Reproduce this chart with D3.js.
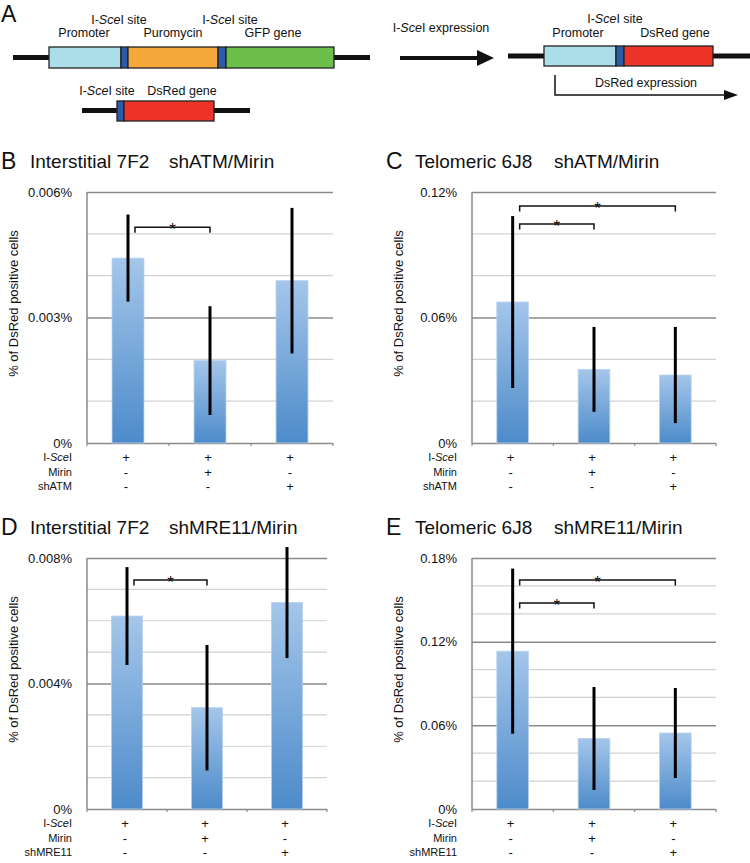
<!DOCTYPE html>
<html><head><meta charset="utf-8">
<script src="https://cdn.jsdelivr.net/npm/d3@7"></script>
<style>
body{margin:0;background:#fff}
svg{display:block}
text{font-family:"Liberation Sans",Arial,Helvetica,sans-serif;fill:#111}
</style>
</head><body>
<svg id="chart" width="750" height="863"></svg>
<script>
// ---------- DATA ----------
const groups = ["1", "2", "3"];
const iSceISigns = ["+", "+", "+"];
const mirinSigns = ["-", "+", "-"];
const shRNASigns = ["-", "-", "+"];

// values in percent of DsRed positive cells
const bMeans  = [0.00442, 0.00197, 0.00388];
const bErrors = [0.00104, 0.00130, 0.00174];
const bTicks = [0, 0.003, 0.006];
const bTickLabels = ["0%", "0.003%", "0.006%"];
const bBrackets = [{from: 0, to: 1, level: 0.00516}];

const cMeans  = [0.0674, 0.0352, 0.0325];
const cErrors = [0.0411, 0.0203, 0.0230];
const cTicks = [0, 0.06, 0.12];
const cTickLabels = ["0%", "0.06%", "0.12%"];
const cBrackets = [{from: 0, to: 2, level: 0.1133}, {from: 0, to: 1, level: 0.1047}];

const dMeans  = [0.00615, 0.00323, 0.00658];
const dErrors = [0.00156, 0.00200, 0.00177];
const dTicks = [0, 0.004, 0.008];
const dTickLabels = ["0%", "0.004%", "0.008%"];
const dBrackets = [{from: 0, to: 1, level: 0.0073}];

const eMeans  = [0.1132, 0.0506, 0.0545];
const eErrors = [0.0592, 0.0369, 0.0323];
const eTicks = [0, 0.06, 0.12, 0.18];
const eTickLabels = ["0%", "0.06%", "0.12%", "0.18%"];
const eBrackets = [{from: 0, to: 2, level: 0.1642}, {from: 0, to: 1, level: 0.1477}];

// ---------- SVG ----------
const svg = d3.select("#chart");
const defs = svg.append("defs");
const grad = defs.append("linearGradient").attr("id", "barGrad")
  .attr("x1", 0).attr("y1", 0).attr("x2", 0).attr("y2", 1);
grad.append("stop").attr("offset", "0%").attr("stop-color", "#a4c6ea");
grad.append("stop").attr("offset", "100%").attr("stop-color", "#4d8bca");

// ---------- PANEL A (schematic) ----------
const colPromoter = "#acdeea", colSite = "#2c5ca9", colPuro = "#f6a83b",
      colGFP = "#6cbf4a", colRed = "#ee3428", colEdge = "#222";
const A = svg.append("g");
A.append("text").attr("x", 1).attr("y", 22).attr("font-size", 23).text("A");

function construct(g, lineX1, lineX2, lineY, boxTop, boxH, segs) {
  g.append("line").attr("x1", lineX1).attr("x2", lineX2).attr("y1", lineY).attr("y2", lineY)
    .attr("stroke", "#111").attr("stroke-width", 5);
  g.selectAll(null).data(segs).join("rect")
    .attr("x", d => d[0]).attr("width", d => d[1] - d[0])
    .attr("y", boxTop).attr("height", boxH)
    .attr("fill", d => d[2]).attr("stroke", colEdge).attr("stroke-width", 1.3);
}
function label(g, x, y, parts, size) {
  const t = g.append("text").attr("x", x).attr("y", y).attr("text-anchor", "middle").attr("font-size", size || 12.5);
  parts.forEach(p => t.append("tspan").attr("font-style", p[1] ? "italic" : null).text(p[0]));
  return t;
}
const siteLabel = [["I-", 0], ["Sce", 1], ["I site", 0]];

construct(A, 13, 370, 57.5, 47, 21, [[49, 121, colPromoter], [121, 128, colSite], [128, 218, colPuro], [218, 226, colSite], [226, 334, colGFP]]);
label(A, 119, 24, siteLabel);
label(A, 230, 24, siteLabel);
label(A, 84, 37, [["Promoter", 0]]);
label(A, 173, 37, [["Puromycin", 0]]);
label(A, 273, 37, [["GFP gene", 0]]);

construct(A, 82, 250, 110.5, 101, 20, [[117, 124, colSite], [124, 214, colRed]]);
label(A, 107, 95, siteLabel);
label(A, 182, 95, [["DsRed gene", 0]]);

label(A, 441, 32, [["I-", 0], ["Sce", 1], ["I expression", 0]]);
A.append("line").attr("x1", 400).attr("x2", 480).attr("y1", 58).attr("y2", 58).attr("stroke", "#111").attr("stroke-width", 4);
A.append("path").attr("d", "M477,50 L494,58 L477,66 Z").attr("fill", "#111");

construct(A, 508, 750, 56, 46, 20, [[544, 616, colPromoter], [616, 624, colSite], [624, 713, colRed]]);
label(A, 615, 23, siteLabel);
label(A, 578, 36.5, [["Promoter", 0]]);
label(A, 675, 36.5, [["DsRed gene", 0]]);
A.append("path").attr("d", "M555,75 L555,95 L727,95").attr("fill", "none").attr("stroke", "#111").attr("stroke-width", 1.5);
A.append("path").attr("d", "M724,90 L738,95 L724,100 Z").attr("fill", "#111");
label(A, 646, 87, [["DsRed expression", 0]]);

// ---------- BAR PANELS ----------
function drawPanel(p) {
  const g = svg.append("g");
  const y = d3.scaleLinear().domain([0, p.ticks[p.ticks.length - 1]]).range([p.bottom, p.top]);
  const x = d3.scaleBand().domain(groups).range([p.left, p.right]).paddingInner(0.61).paddingOuter(0.305);
  const step = x.step();
  const w = p.right - p.left;

  // minor gridlines
  const minor = d3.range(0, y.domain()[1] + 1e-12, p.minorStep).filter(v => !p.ticks.some(t => Math.abs(t - v) < 1e-9));
  g.selectAll(".minor").data(minor).join("line")
    .attr("x1", p.left).attr("x2", p.right).attr("y1", d => y(d)).attr("y2", d => y(d))
    .attr("stroke", "#d2d2d2").attr("stroke-width", 1.2);

  // major gridlines + labels via axis
  const ax = g.append("g").attr("transform", `translate(${p.left},0)`)
    .call(d3.axisLeft(y).tickValues(p.ticks).tickFormat((d, i) => p.tickLabels[i]).tickSize(-w).tickPadding(15));
  ax.select(".domain").remove();
  ax.selectAll(".tick line").attr("stroke", "#8a8a8a").attr("stroke-width", 1.5);
  ax.selectAll(".tick text").attr("font-size", 13).attr("fill", "#111")
    .style("font-family", '"Liberation Sans",Arial,sans-serif');

  // y axis line
  g.append("line").attr("x1", p.left).attr("x2", p.left).attr("y1", p.top).attr("y2", p.bottom)
    .attr("stroke", "#8a8a8a").attr("stroke-width", 1.5);
  // x tick marks at category boundaries
  g.selectAll(".xt").data(d3.range(groups.length + 1)).join("line")
    .attr("x1", i => p.left + i * step).attr("x2", i => p.left + i * step)
    .attr("y1", p.bottom).attr("y2", p.bottom + 3)
    .attr("stroke", "#8a8a8a").attr("stroke-width", 1.2);

  // bars
  g.selectAll(".bar").data(p.means).join("rect")
    .attr("x", (d, i) => x(groups[i])).attr("width", x.bandwidth())
    .attr("y", d => y(d)).attr("height", d => y(0) - y(d))
    .attr("fill", "url(#barGrad)").attr("stroke", "#b8d3ee").attr("stroke-width", 0.8);

  // error bars
  g.selectAll(".err").data(p.means).join("line")
    .attr("x1", (d, i) => x(groups[i]) + x.bandwidth() / 2).attr("x2", (d, i) => x(groups[i]) + x.bandwidth() / 2)
    .attr("y1", (d, i) => y(d + p.errors[i])).attr("y2", (d, i) => y(d - p.errors[i]))
    .attr("stroke", "#000").attr("stroke-width", 3);

  // significance brackets
  p.brackets.forEach(b => {
    const x1 = x(groups[b.from]) + x.bandwidth() / 2 + 7;
    const x2 = x(groups[b.to]) + x.bandwidth() / 2;
    const yy = y(b.level);
    g.append("path").attr("d", `M${x1},${yy + 5.5} L${x1},${yy} L${x2},${yy} L${x2},${yy + 5.5}`)
      .attr("fill", "none").attr("stroke", "#111").attr("stroke-width", 1.5);
    g.append("text").attr("x", (x1 + x2) / 2).attr("y", yy + 8).attr("text-anchor", "middle")
      .attr("font-size", 17).text("*");
  });

  // y label
  g.append("text").attr("transform", `translate(${p.left - 69},${(p.top + p.bottom) / 2 - 14}) rotate(-90)`)
    .attr("text-anchor", "middle").attr("font-size", 13).text("% of DsRed positive cells");

  // title
  g.append("text").attr("x", p.left - 86).attr("y", p.top - 23).attr("font-size", 23).text(p.letter);
  g.append("text").attr("x", p.left - 57).attr("y", p.top - 24).attr("font-size", 19).text(p.title1);
  g.append("text").attr("x", p.left + 82).attr("y", p.top - 24).attr("font-size", 19).text(p.title2);

  // condition table
  const rows = [iSceISigns, mirinSigns, shRNASigns];
  const rowOff = [14, 29, 43];
  rows.forEach((signs, r) => {
    const lt = g.append("text").attr("x", p.left - 15).attr("y", p.bottom + rowOff[r] + 4)
      .attr("text-anchor", "end").attr("font-size", 11);
    if (r === 0) {
      lt.append("tspan").text("I-");
      lt.append("tspan").attr("font-style", "italic").text("Sce");
      lt.append("tspan").text("I");
    } else if (r === 1) {
      lt.text("Mirin");
    } else {
      lt.text(p.shLabel);
    }
    g.selectAll(null).data(signs).join("text")
      .attr("x", (d, i) => x(groups[i]) + x.bandwidth() / 2 - 2)
      .attr("y", p.bottom + rowOff[r] + 4.5)
      .attr("text-anchor", "middle").attr("font-size", 13).text(d => d);
  });
}

drawPanel({letter: "B", title1: "Interstitial 7F2", title2: "shATM/Mirin", shLabel: "shATM",
  means: bMeans, errors: bErrors, ticks: bTicks, tickLabels: bTickLabels, minorStep: 0.001, brackets: bBrackets,
  left: 87, right: 333, top: 192, bottom: 443});
drawPanel({letter: "C", title1: "Telomeric 6J8", title2: "shATM/Mirin", shLabel: "shATM",
  means: cMeans, errors: cErrors, ticks: cTicks, tickLabels: cTickLabels, minorStep: 0.02, brackets: cBrackets,
  left: 472, right: 716, top: 192, bottom: 443});
drawPanel({letter: "D", title1: "Interstitial 7F2", title2: "shMRE11/Mirin", shLabel: "shMRE11",
  means: dMeans, errors: dErrors, ticks: dTicks, tickLabels: dTickLabels, minorStep: 0.001, brackets: dBrackets,
  left: 87, right: 327, top: 558, bottom: 809});
drawPanel({letter: "E", title1: "Telomeric 6J8", title2: "shMRE11/Mirin", shLabel: "shMRE11",
  means: eMeans, errors: eErrors, ticks: eTicks, tickLabels: eTickLabels, minorStep: 0.02, brackets: eBrackets,
  left: 472, right: 716, top: 558, bottom: 809});
</script>
</body></html>
